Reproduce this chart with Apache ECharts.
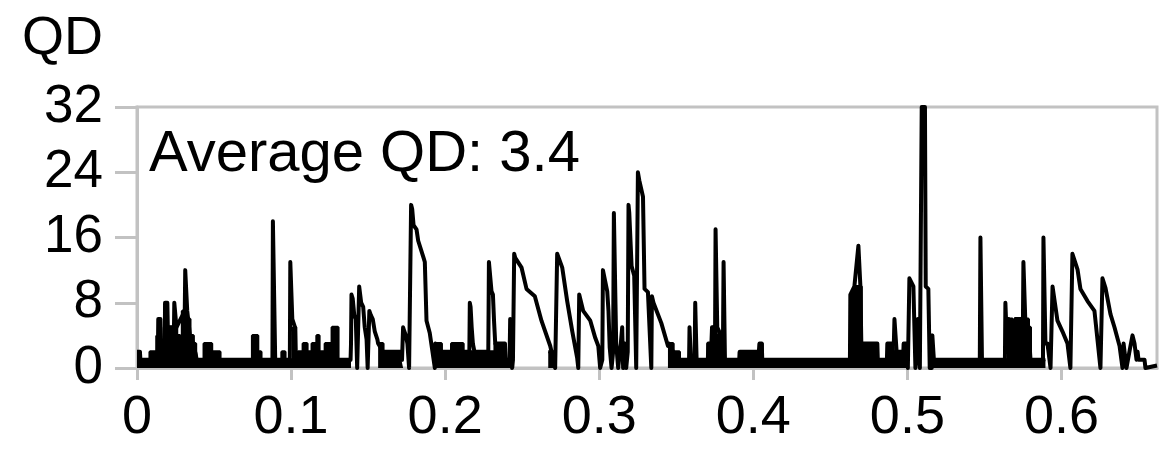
<!DOCTYPE html>
<html>
<head>
<meta charset="utf-8">
<script src="https://cdn.jsdelivr.net/npm/echarts@6/dist/echarts.min.js"></script>
<style>
  html, body { margin: 0; padding: 0; background: #fff; }
  #qd { width: 1174px; height: 452px; }
</style>
</head>
<body>
<div id="qd"></div>
<script>
// tick labels
const xTicks = [0, 0.1, 0.2, 0.3, 0.4, 0.5, 0.6];
const yTicks = [0, 8, 16, 24, 32];
const xEnd = 0.662;
const averageQD = 3.4;

// queue depth trace, [x, QD]
const qdTrace = [
  // 0 - 0.14
  [0,2],[0.0019,2],[0.0022,1],[0.0135,1],[0.0138,6],[0.0152,6],[0.0156,2],[0.0180,2],[0.0182,8],[0.0197,8],
  [0.0200,5],[0.0240,5],[0.0242,8],[0.0252,8],[0.0256,5],[0.0310,7],[0.0313,12],[0.0322,12],[0.0326,7],[0.0344,4],
  [0.0366,3],[0.0388,1],[0.0879,1],[0.0882,18],[0.0894,18],[0.0897,1],[0.0992,1],[0.0995,13],[0.1005,13],[0.1008,6],
  [0.1025,5],[0.1031,1],[0.1386,1],
  // 0.139 - 0.19
  [0.1389,3],[0.1392,9],[0.1400,8.5],[0.1410,6.5],[0.1420,6],[0.1429,0],[0.1438,0],[0.1442,10],[0.1450,10],[0.1455,8],
  [0.1468,7.5],[0.1478,5],[0.1490,3.5],[0.1497,0],[0.1506,0],[0.1508,7],[0.1517,6.5],[0.1530,6],[0.1543,4.5],[0.1560,3.5],
  [0.1565,3],[0.1597,2],[0.1716,2],[0.1720,1],[0.1727,5],[0.1735,4.5],[0.1745,4],[0.1755,3],[0.1766,0],[0.1775,0],
  [0.1779,20],[0.1786,19.5],[0.1795,17.5],[0.1814,17],[0.1825,15.6],[0.1860,13.5],[0.1868,13],[0.1879,5.8],[0.1900,4.3],[0.1933,0],
  [0.1936,3],
  // 0.19 - 0.245
  [0.1976,2],[0.2157,2],[0.2160,8],[0.2165,7.5],[0.2172,5],[0.2180,3],[0.2190,2],[0.2280,2],[0.2284,13],[0.2292,13],
  [0.2301,9.4],[0.2310,9],[0.2318,5.5],[0.2325,3],[0.2388,3],[0.2392,1],[0.2418,1],[0.2422,6],[0.2430,6],[0.2434,0],
  [0.2440,1],
  // 0.245 - 0.345
  [0.2445,1],[0.2448,14],[0.2455,13.5],[0.2496,12.3],[0.2528,9.7],[0.2582,8.8],[0.2625,5.8],[0.2682,2.7],[0.2714,0],[0.2727,14],
  [0.2760,12.3],[0.2792,8.2],[0.2825,4.5],[0.2857,1.2],[0.2864,0],[0.2870,9],[0.2896,7],[0.2942,5.8],[0.2974,3.7],[0.2994,2.7],
  [0.3006,0],[0.3020,1],[0.3024,12],[0.3052,9.4],[0.3060,7],[0.3068,2.5],[0.3080,0],[0.3090,2],[0.3095,19],[0.3102,19],
  [0.3110,3],[0.3123,0],[0.3140,3],[0.3149,5],[0.3155,0],[0.3165,3],[0.3175,0],[0.3185,2],[0.3190,20],[0.3195,19],
  [0.3210,12.5],[0.3227,11.3],[0.3240,0],[0.3251,24],[0.3260,23],[0.3284,21],[0.3294,9.7],[0.3316,9.3],[0.3338,0],[0.3342,8.8],
  [0.3352,8],[0.3403,5.5],[0.3446,2.7],
  // 0.345 - 0.463
  [0.3450,3],[0.3480,2],[0.3521,1],[0.3583,1],[0.3586,5],[0.3592,5],[0.3595,1],[0.3619,1],[0.3623,8],[0.3628,8],
  [0.3632,1],[0.3705,1],[0.3708,3],[0.3728,3],[0.3732,5],[0.3752,5],[0.3755,17],[0.3762,17],[0.3766,5],[0.3790,4],
  [0.3803,3],[0.3807,13],[0.3813,13],[0.3816,1],[0.3909,1],[0.3912,2],[0.4036,2],[0.4040,3],[0.4055,3],[0.4058,1],
  [0.4627,1],
  // 0.463 - 0.52
  [0.4630,9],[0.4656,10],[0.4682,15],[0.4690,15],[0.4695,10],[0.4701,3],[0.4805,3],[0.4808,1],[0.4867,1],[0.4870,3],
  [0.4912,3],[0.4916,6],[0.4926,6],[0.4930,2],[0.4974,2],[0.4976,3],[0.4994,3],[0.5003,0],[0.5013,11],[0.5022,10.8],
  [0.5039,10],[0.5052,0],[0.5062,2],[0.5068,6],[0.5075,6],[0.5081,0],[0.5089,0],[0.5093,32],[0.5114,32],[0.5119,10],
  [0.5136,9.7],[0.5145,0],[0.5158,0],[0.5162,4],[0.5169,4],[0.5172,1],
  // 0.52 - 0.588
  [0.5470,1],[0.5474,16],[0.5480,16],[0.5484,1],[0.5633,1],[0.5636,8],[0.5643,8],[0.5648,2],[0.5656,6],[0.5682,5],
  [0.5701,6],[0.5750,6],[0.5753,13],[0.5760,13],[0.5765,6],[0.5786,5],[0.5799,1],[0.5880,1],
  // 0.588 - end
  [0.5883,16],[0.5890,16],[0.5896,3],[0.5909,3],[0.5929,0],[0.5942,10],[0.5974,5.8],[0.6006,4.5],[0.6039,3],[0.6058,0],
  [0.6071,14],[0.6104,12.1],[0.6123,9.7],[0.6169,8.2],[0.6214,7],[0.6253,0],[0.6266,11],[0.6286,9.8],[0.6318,6.6],[0.6344,5],
  [0.6377,2.7],[0.6396,0],[0.6403,3],[0.6422,0],[0.6441,2],[0.6461,4],[0.6474,3],[0.6487,1],[0.6494,2],[0.6500,1],
  [0.6539,1],[0.6545,0],[0.662,0.3]
];

// spans where QD flips too fast to see single lines: [from, to, top level]
const denseSpans = [
  [0,0.0019,2],[0.0019,0.0084,1],[0.0084,0.0128,2],[0.0128,0.0138,4],[0.0138,0.0177,2],[0.0177,0.0258,5],
  [0.0258,0.0279,4],[0.0279,0.0294,3],[0.0294,0.0325,7],[0.0325,0.0344,6],[0.0344,0.0366,4],[0.0366,0.0381,3],
  [0.0381,0.0388,2],[0.0388,0.0435,1],[0.0435,0.0485,3],[0.0485,0.0539,2],[0.0539,0.0749,1],[0.0749,0.0784,4],
  [0.0784,0.0805,2],[0.0805,0.0940,1],[0.0940,0.0961,2],[0.0961,0.1015,1],[0.1015,0.1031,5],[0.1031,0.1045,1],
  [0.1045,0.1078,2],[0.1078,0.1104,3],[0.1104,0.1136,2],[0.1136,0.1167,3],[0.1167,0.1182,4],[0.1182,0.1221,2],
  [0.1221,0.1253,3],[0.1253,0.1266,1],[0.1266,0.1305,5],[0.1305,0.1389,1],
  [0.1565,0.1597,3],[0.1597,0.1716,2],[0.1716,0.1727,1],
  [0.1933,0.1976,3],[0.1976,0.2041,2],[0.2041,0.2117,3],[0.2117,0.2323,2],[0.2323,0.2388,3],[0.2388,0.2448,1],
  [0.2669,0.2714,2],
  [0.3446,0.3480,3],[0.3480,0.3521,2],[0.3521,0.3705,1],[0.3705,0.3730,3],[0.3730,0.3760,5],[0.3760,0.3805,4],
  [0.3805,0.3909,1],[0.3909,0.4039,2],[0.4039,0.4058,3],[0.4058,0.4630,1],[0.4630,0.4656,9],[0.4656,0.4701,10],
  [0.4701,0.4805,3],[0.4805,0.4870,1],[0.4870,0.4909,3],[0.4909,0.4974,2],[0.4974,0.4994,3],[0.4994,0.5000,1],
  [0.5145,0.5656,1],[0.5656,0.5682,6],[0.5682,0.5701,5],[0.5701,0.5786,6],[0.5786,0.5799,5],[0.5799,0.5896,1]
];

let denseData = [];
let lastEnd = null;
denseSpans.forEach(s => {
  if (lastEnd !== null && s[0] !== lastEnd) {
    denseData.push([lastEnd, '-']);
  }
  denseData.push([s[0], s[2]], [s[1], s[2]]);
  lastEnd = s[1];
});

const gray = '#c2c2c2';
const font = 'Liberation Sans, Arial, Helvetica, sans-serif';

let chartDom = document.getElementById('qd');
let myChart = echarts.init(chartDom);
let option;

option = {
  animation: false,
  backgroundColor: '#fff',
  grid: {
    left: 137, right: 17, top: 107, bottom: 84,
    show: true, borderColor: gray, borderWidth: 3
  },
  graphic: [
    {
      type: 'text', left: 22, top: 12,
      style: { text: 'QD', fontSize: 54, fontFamily: font, fill: '#000' }
    },
    {
      type: 'text', left: 149, top: 126,
      style: { text: 'Average QD: ' + averageQD, fontSize: 58, fontFamily: font, fill: '#000' }
    }
  ],
  xAxis: {
    type: 'value',
    min: xTicks[0],
    max: xEnd,
    interval: xTicks[1] - xTicks[0],
    splitLine: { show: false },
    axisLine: { onZero: false, lineStyle: { color: gray, width: 3 } },
    axisTick: { length: 12, lineStyle: { color: gray, width: 3 }, customValues: xTicks },
    axisLabel: {
      customValues: xTicks,
      margin: 23,
      color: '#000',
      fontSize: 54,
      fontFamily: font,
      formatter: v => String(Math.round(v * 10) / 10)
    }
  },
  yAxis: {
    type: 'value',
    min: yTicks[0],
    max: yTicks[yTicks.length - 1],
    interval: yTicks[1] - yTicks[0],
    splitLine: { show: false },
    axisLine: { show: true, lineStyle: { color: gray, width: 3 } },
    axisTick: { show: true, length: 22, lineStyle: { color: gray, width: 3 } },
    axisLabel: {
      margin: 34,
      color: '#000',
      fontSize: 53,
      fontFamily: font
    }
  },
  series: [
    {
      name: 'dense',
      type: 'line',
      data: denseData,
      showSymbol: false,
      connectNulls: false,
      lineStyle: { color: '#000', width: 3 },
      areaStyle: { color: '#000', opacity: 1 },
      silent: true
    },
    {
      name: 'QD',
      type: 'line',
      data: qdTrace,
      showSymbol: false,
      lineStyle: { color: '#000', width: 4, join: 'round' },
      silent: true
    }
  ]
};
option && myChart.setOption(option);
</script>
</body>
</html>
